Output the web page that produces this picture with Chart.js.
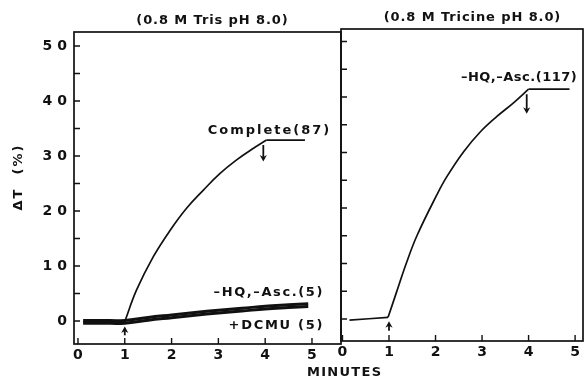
<!DOCTYPE html>
<html><head><meta charset="utf-8">
<script src="https://cdn.jsdelivr.net/npm/chart.js@4/dist/chart.umd.min.js"></script>
<style>
html,body{margin:0;padding:0;background:#fff;}
#wrap{position:relative;width:584px;height:380px;}
canvas{position:absolute;left:0;top:0;}
</style>
</head><body>
<div id="wrap"><canvas id="c1" width="584" height="380"></canvas><canvas id="c2" width="584" height="380"></canvas></div>
<script>
// ---- data ----
const xTickValues = [0, 1, 2, 3, 4, 5];
const xTickLabels = ['0', '1', '2', '3', '4', '5'];
const yTickValues = [0, 5, 10, 15, 20, 25, 30, 35, 40, 45, 50];
const yLabelValues = [0, 10, 20, 30, 40, 50];
const yTickLabels = ['0', '10', '20', '30', '40', '50'];

// Left panel (0.8 M Tris pH 8.0)
const trisCompleteT = [0.11, 1.0, 1.25, 1.61, 1.97, 2.32, 2.68, 3.03, 3.39, 3.75, 4.03, 4.85];
const trisCompleteV = [-0.15, -0.1, 5.6, 11.7, 16.5, 20.5, 23.8, 26.8, 29.3, 31.4, 32.9, 32.9];
const trisHqT = [0.11, 0.5, 1.0, 1.5, 2.0, 2.5, 3.0, 3.5, 4.0, 4.5, 4.92];
const trisHqV = [0.1, 0.1, 0.1, 0.65, 1.1, 1.55, 1.95, 2.3, 2.7, 2.95, 3.15];
const trisDcmuV = [-0.4, -0.4, -0.4, 0.15, 0.6, 1.05, 1.45, 1.8, 2.2, 2.45, 2.65];
const trisArrowT = [1.0, 3.96];
const trisArrowFrom = [-2.6, 32.0];
const trisArrowTo = [-1.0, 29.0];
const trisNoteText = ['Complete(87)', '\u2013HQ,\u2013Asc.(5)', '+DCMU (5)'];
const trisNoteT = [4.07, 4.06, 4.22];
const trisNoteV = [34.7, 5.2, -0.9];

// Right panel (0.8 M Tricine pH 8.0)
const tricineT = [0.15, 0.98, 1.16, 1.37, 1.6, 2.03, 2.24, 2.6, 2.96, 3.32, 3.67, 4.0, 4.88];
const tricineV = [-0.2, 0.3, 4.8, 10.0, 15.0, 22.4, 25.6, 30.1, 33.7, 36.5, 38.9, 41.4, 41.4];
const tricineArrowT = [1.0, 3.96];
const tricineArrowFrom = [-2.1, 40.5];
const tricineArrowTo = [-0.4, 37.0];
const tricineNoteText = ['\u2013HQ,\u2013Asc.(117)'];
const tricineNoteT = [3.79];
const tricineNoteV = [43.4];

// ---- helpers ----
const pts = (T, V) => T.map((t, i) => ({x: t, y: V[i]}));
const INK = '#111';
const FONT = '"DejaVu Sans", sans-serif';

function drawSpaced(ctx, text, x, y, size, spacing, rot) {
  ctx.save();
  ctx.translate(x, y);
  if (rot) ctx.rotate(rot);
  ctx.font = 'bold ' + size + 'px ' + FONT;
  ctx.letterSpacing = spacing + 'px';
  ctx.textAlign = 'center';
  ctx.textBaseline = 'middle';
  ctx.fillStyle = INK;
  ctx.fillText(text, spacing / 2, 0);
  ctx.restore();
}

function makeDeco(cfg) {
  return {
    id: 'deco',
    beforeDraw(chart) { chart.ctx.letterSpacing = '5px'; },
    afterDraw(chart) {
      const ctx = chart.ctx, a = chart.chartArea, x = chart.scales.x, y = chart.scales.y;
      ctx.save();
      ctx.letterSpacing = '0px';
      ctx.strokeStyle = INK;
      ctx.lineWidth = 1.7;
      ctx.strokeRect(a.left, a.top, a.right - a.left, a.bottom - a.top);
      ctx.lineWidth = 1.4;
      ctx.beginPath();
      y.ticks.forEach(t => { const p = y.getPixelForValue(t.value); ctx.moveTo(a.left, p); ctx.lineTo(a.left + 6, p); });
      x.ticks.forEach(t => { const p = x.getPixelForValue(t.value); ctx.moveTo(p, a.bottom); ctx.lineTo(p, a.bottom - 6); });
      ctx.stroke();
      // arrows
      ctx.fillStyle = INK;
      cfg.arrowT.forEach((t, i) => {
        const px = x.getPixelForValue(t);
        const y0 = y.getPixelForValue(cfg.arrowFrom[i]);
        const y1 = y.getPixelForValue(cfg.arrowTo[i]);
        const dir = y1 > y0 ? 1 : -1;
        ctx.lineWidth = 1.8;
        ctx.beginPath(); ctx.moveTo(px, y0); ctx.lineTo(px, y1 - dir * 3); ctx.stroke();
        ctx.beginPath();
        ctx.moveTo(px, y1);
        ctx.lineTo(px - 3.6, y1 - dir * 6.5);
        ctx.lineTo(px, y1 - dir * 4.5);
        ctx.lineTo(px + 3.6, y1 - dir * 6.5);
        ctx.closePath(); ctx.fill();
      });
      // notes
      cfg.noteText.forEach((s, i) => {
        drawSpaced(ctx, s, x.getPixelForValue(cfg.noteT[i]), y.getPixelForValue(cfg.noteV[i]), 13, cfg.noteSp[i], 0);
      });
      // titles
      cfg.texts.forEach(tx => drawSpaced(ctx, tx.s, tx.x, tx.y, tx.size, tx.sp, tx.rot || 0));
      ctx.restore();
    }
  };
}

const lineStyle = (w) => ({showLine: true, borderColor: INK, backgroundColor: INK, borderWidth: w, pointRadius: 0, fill: false, tension: 0.4, borderJoinStyle: 'round'});

// split a trace at its corner indices so each smooth piece keeps sharp corners
function pieces(label, T, V, corners, w) {
  const cut = [0, ...corners, T.length - 1];
  const out = [];
  for (let k = 0; k < cut.length - 1; k++) {
    out.push(Object.assign({label: label, data: pts(T.slice(cut[k], cut[k + 1] + 1), V.slice(cut[k], cut[k + 1] + 1))}, lineStyle(w)));
  }
  return out;
}

function makeChart(id, datasets, xMin, xMax, yMin, yMax, pad, yWidth, xHeight, showYLabels, deco) {
  return new Chart(document.getElementById(id), {
    type: 'scatter',
    data: {datasets},
    options: {
      responsive: false,
      animation: false,
      events: [],
      layout: {padding: pad},
      plugins: {legend: {display: false}, tooltip: {enabled: false}, title: {display: false}},
      elements: {point: {radius: 0}},
      scales: {
        x: {
          type: 'linear', min: xMin, max: xMax,
          afterBuildTicks: s => { s.ticks = xTickValues.map(v => ({value: v})); },
          afterFit: s => { s.height = xHeight; },
          grid: {display: false, drawTicks: false},
          border: {display: false},
          ticks: {
            padding: 3, labelOffset: 2.5, color: INK,
            font: {family: FONT, size: 14, weight: 'bold'},
            callback: v => { const i = xTickValues.indexOf(v); return i >= 0 ? xTickLabels[i] : ''; }
          }
        },
        y: {
          type: 'linear', min: yMin, max: yMax,
          afterBuildTicks: s => { s.ticks = yTickValues.map(v => ({value: v})); },
          afterFit: s => { s.width = yWidth; },
          grid: {display: false, drawTicks: false},
          border: {display: false},
          ticks: {
            display: showYLabels, padding: 2, color: INK,
            font: {family: FONT, size: 14, weight: 'bold'},
            callback: v => { const i = yLabelValues.indexOf(v); return i >= 0 ? yTickLabels[i] : ''; }
          }
        }
      }
    },
    plugins: [deco]
  });
}

makeChart('c1', [
  ...pieces('Complete (87)', trisCompleteT, trisCompleteV, [1, 10], 1.7),
  Object.assign({label: '-HQ,-Asc. (5)', data: pts(trisHqT, trisHqV)}, lineStyle(3)),
  Object.assign({label: '+DCMU (5)', data: pts(trisHqT, trisDcmuV)}, lineStyle(3))
], -0.085, 5.62, -4.18, 52.55, {left: 0, top: 32, right: 243, bottom: 0}, 74, 36, true,
  makeDeco({
    arrowT: trisArrowT, arrowFrom: trisArrowFrom, arrowTo: trisArrowTo,
    noteText: trisNoteText, noteT: trisNoteT, noteV: trisNoteV, noteSp: [2, 1.6, 1.7],
    texts: [
      {s: '(0.8 M Tris pH 8.0)', x: 212, y: 21, size: 13, sp: 0.9},
      {s: '\u0394T  (%)', x: 19, y: 178, size: 13, sp: 2, rot: -Math.PI / 2},
      {s: 'MINUTES', x: 344, y: 373, size: 13, sp: 1.3}
    ]
  }));

makeChart('c2', [
  ...pieces('-HQ,-Asc. (117)', tricineT, tricineV, [1, 11], 1.7)
], -0.032, 5.17, -3.96, 52.25, {left: 341, top: 29, right: 1, bottom: 0}, 0, 39, false,
  makeDeco({
    arrowT: tricineArrowT, arrowFrom: tricineArrowFrom, arrowTo: tricineArrowTo,
    noteText: tricineNoteText, noteT: tricineNoteT, noteV: tricineNoteV, noteSp: [0.5],
    texts: [
      {s: '(0.8 M Tricine pH 8.0)', x: 472, y: 18, size: 13, sp: 0.9}
    ]
  }));
</script>
</body></html>
